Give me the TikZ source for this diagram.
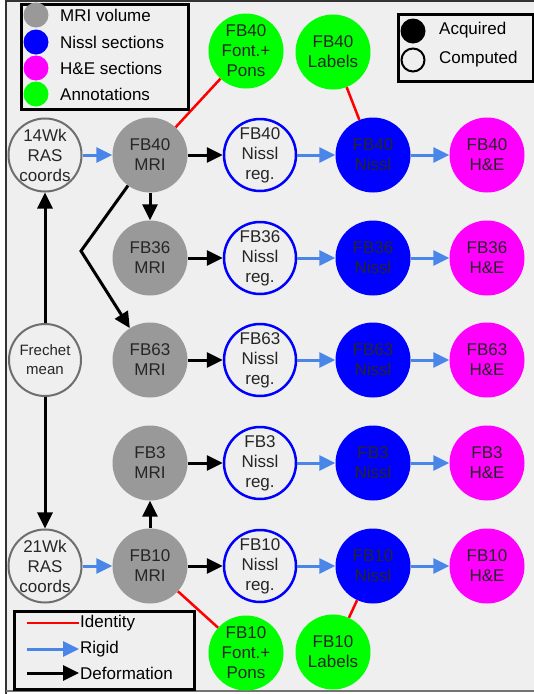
\documentclass[tikz,border=0pt]{standalone}
\usepackage{fontspec}
\setmainfont{Liberation Sans}
\usetikzlibrary{arrows.meta}

\definecolor{bggray}{HTML}{EFEFEF}
\definecolor{mrigray}{HTML}{999999}
\definecolor{nisslblue}{HTML}{0000FF}
\definecolor{hepink}{HTML}{FF00FF}
\definecolor{annotgreen}{HTML}{00FF00}
\definecolor{rigidblue}{HTML}{4A86E8}
\definecolor{ringgray}{HTML}{6E6E6E}

\tikzset{
    ball/.style={circle, minimum size=75pt, inner sep=0pt, align=center, text=black!85},
    mri/.style={ball, fill=mrigray},
    nissl/.style={ball, fill=nisslblue},
    he/.style={ball, fill=hepink},
    annot/.style={ball, fill=annotgreen},
    reg/.style={ball, minimum size=72pt, draw=nisslblue, line width=2.5pt, fill=bggray},
    coords/.style={ball, minimum size=72pt, draw=ringgray, line width=2pt, fill=bggray},
    rigid/.style={->, rigidblue, line width=3pt},
    deform/.style={->, black, line width=3pt},
    identity/.style={red, line width=2.5pt},
    keydot/.style={circle, minimum size=25pt, inner sep=0pt},
    keytext/.style={anchor=west, inner sep=1pt},
    keybox/.style={draw, line width=2.5pt, inner sep=0pt, anchor=north west}
}

\begin{document}
\begin{tikzpicture}[x=1pt, y=-1pt, font=\fontsize{17}{20}\selectfont,
                    >={Triangle[length=16pt, width=15pt]}]
    \useasboundingbox (0,0) rectangle (534,694);
    \fill[bggray] (6,1) rectangle (534,691);
    \draw[black!80, line width=1.5pt] (6,0) -- (6,694);
    \draw[black!80, line width=1.5pt] (6,1) -- (534,1);
    \draw[black!55, line width=1.5pt] (6,691) -- (534,691);

    % one row per specimen
    \foreach \R/\Y in { 40/155,
                        36/258,
                        63/360,
                         3/463,
                        10/566
        } {
        \node[mri](mri\R) at (150,\Y) {FB\R\\MRI};
        \node[reg](reg\R) at (260,\Y) {FB\R\\Nissl\\reg.};
        \node[nissl](nissl\R) at (373,\Y) {FB\R\\Nissl};
        \node[he](he\R) at (487,\Y) {FB\R\\H\&E};
        \draw[deform] (mri\R) -- (reg\R);
        \draw[rigid] (reg\R) -- (nissl\R);
        \draw[rigid] (nissl\R) -- (he\R);
        }

        \node[coords](wk14) at (45,155) {14Wk\\RAS\\coords};
        \node[coords, font=\fontsize{15}{19}\selectfont](frechet) at (45,360) {Frechet\\mean};
        \node[coords](wk21) at (45,566) {21Wk\\RAS\\coords};

        \node[annot](font40) at (246,51) {FB40\\Font.+\\Pons};
        \node[annot](labels40) at (333,52) {FB40\\Labels};
        \node[annot](font10) at (246,653) {FB10\\Font.+\\Pons};
        \node[annot](labels10) at (333,652) {FB10\\Labels};

        \draw[deform] (frechet) -- (wk14);
        \draw[deform] (frechet) -- (wk21);
        \draw[rigid] (wk14) -- (mri40);
        \draw[rigid] (wk21) -- (mri10);
        \draw[deform] (mri40) -- (mri36);
        \draw[deform] (mri10) -- (mri3);
        \coordinate (bend) at (81,251);
        \draw[deform] (mri40) -- (bend) -- (mri63);

        \draw[identity] (mri40) -- (font40);
        \draw[identity] (labels40) -- (nissl40);
        \draw[identity] (mri10) -- (font10);
        \draw[identity] (nissl10) -- (labels10);

        % legend: colours
        \node[keybox, minimum width=167pt, minimum height=105pt](keycolour) at (20,3) {};
        \foreach \Y/\C/\T in { 15/mrigray/{MRI volume},
                               42/nisslblue/{Nissl sections},
                               68/hepink/{H\&E sections},
                               94/annotgreen/{Annotations}
            } {
            \node[keydot, fill=\C](dot\Y) at (36,\Y) {};
            \node[keytext](txt\Y) at (59,\Y) {\T};
            }

        % legend: fill
        \node[keybox, minimum width=135pt, minimum height=67pt](keyfill) at (397,13) {};
        \node[keydot, fill=black](acq) at (413,31) {};
        \node[keydot, draw=black, line width=2pt, minimum size=23pt](comp) at (413,60) {};
        \node[keytext](acqtxt) at (438,30) {Acquired};
        \node[keytext](comptxt) at (438,59) {Computed};

        % legend: connectors
        \node[keybox, minimum width=180pt, minimum height=78pt](keyline) at (13,610) {};
        \node[keytext](idtxt) at (79,623) {Identity};
        \node[keytext](rigtxt) at (79,649) {Rigid};
        \node[keytext](deftxt) at (79,673) {Deformation};
        \coordinate (idstart) at (27,623);
        \coordinate (rigstart) at (27,649);
        \coordinate (defstart) at (27,673);
        \draw[identity] (idstart) -- (idtxt);
        \draw[rigid] (rigstart) -- (rigtxt);
        \draw[deform] (defstart) -- (deftxt);
\end{tikzpicture}
\end{document}
